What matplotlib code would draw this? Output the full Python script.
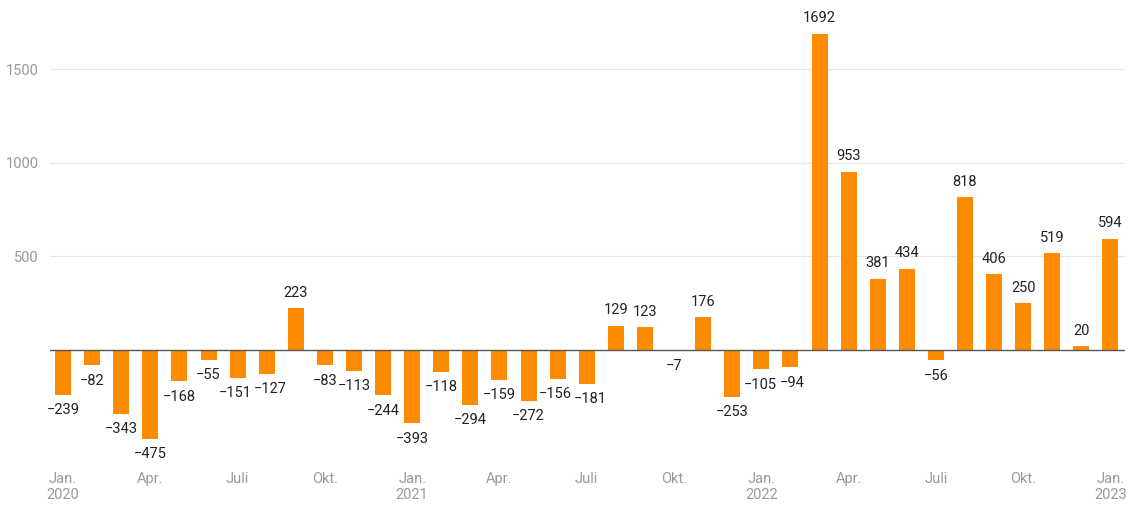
import matplotlib.pyplot as plt
import numpy as np

plt.rcParams['font.family'] = ['Roboto', 'DejaVu Sans']

months = ['2020-01', '2020-02', '2020-03', '2020-04', '2020-05', '2020-06',
          '2020-07', '2020-08', '2020-09', '2020-10', '2020-11', '2020-12',
          '2021-01', '2021-02', '2021-03', '2021-04', '2021-05', '2021-06',
          '2021-07', '2021-08', '2021-09', '2021-10', '2021-11', '2021-12',
          '2022-01', '2022-02', '2022-03', '2022-04', '2022-05', '2022-06',
          '2022-07', '2022-08', '2022-09', '2022-10', '2022-11', '2022-12',
          '2023-01']
values = [-239, -82, -343, -475, -168, -55, -151, -127, 223, -83, -113, -244,
          -393, -118, -294, -159, -272, -156, -181, 129, 123, -7, 176, -253,
          -105, -94, 1692, 953, 381, 434, -56, 818, 406, 250, 519, 20,
          594]
tick_pos = [0, 3, 6, 9, 12, 15, 18, 21, 24, 27, 30, 33, 36]
tick_labels = ['Jan.\n2020', 'Apr.', 'Juli', 'Okt.',
               'Jan.\n2021', 'Apr.', 'Juli', 'Okt.',
               'Jan.\n2022', 'Apr.', 'Juli', 'Okt.',
               'Jan.\n2023']

BAR = '#FF8C00'
GRID = '#E6E6E6'
TICK = '#999999'
TEXT = '#222222'

# small horizontal nudges (points) so neighbouring labels don't collide
nudge = {6: -2, 7: 2.5, 17: -2, 18: 2.5, 24: -1, 25: 1}

fig = plt.figure(figsize=(11.4, 5.05), dpi=100)
ax = fig.add_axes([50 / 1140, 43 / 505, 1075 / 1140, 457 / 505])

x = np.arange(len(values))
ax.bar(x, values, width=0.55, color=BAR, zorder=2)

for i, (xi, v) in enumerate(zip(x, values)):
    label = str(v).replace('-', '\u2212')
    dx = nudge.get(i, 0)
    if v >= 0:
        ax.annotate(label, (xi, v), xytext=(dx, 6), textcoords='offset points',
                    ha='center', va='bottom', fontsize=10.5, color=TEXT)
    else:
        ax.annotate(label, (xi, v), xytext=(dx, -6), textcoords='offset points',
                    ha='center', va='top', fontsize=10.5, color=TEXT)

ax.axhline(0, color='#555555', linewidth=1, zorder=3)
ax.set_xlim(-0.45, 36.5)
ax.set_ylim(-600, 1845)
ax.set_yticks([500, 1000, 1500])
ax.set_yticklabels(['500', '1000', '1500'])
ax.grid(axis='y', color=GRID, linewidth=0.8, zorder=0)
ax.set_xticks(tick_pos)
ax.set_xticklabels(tick_labels)
ax.tick_params(axis='both', length=0, labelsize=10.5, labelcolor=TICK)
ax.tick_params(axis='y', pad=8)
ax.tick_params(axis='x', pad=7)
for s in ax.spines.values():
    s.set_visible(False)

fig.savefig('out.png', dpi=100, facecolor='white')
